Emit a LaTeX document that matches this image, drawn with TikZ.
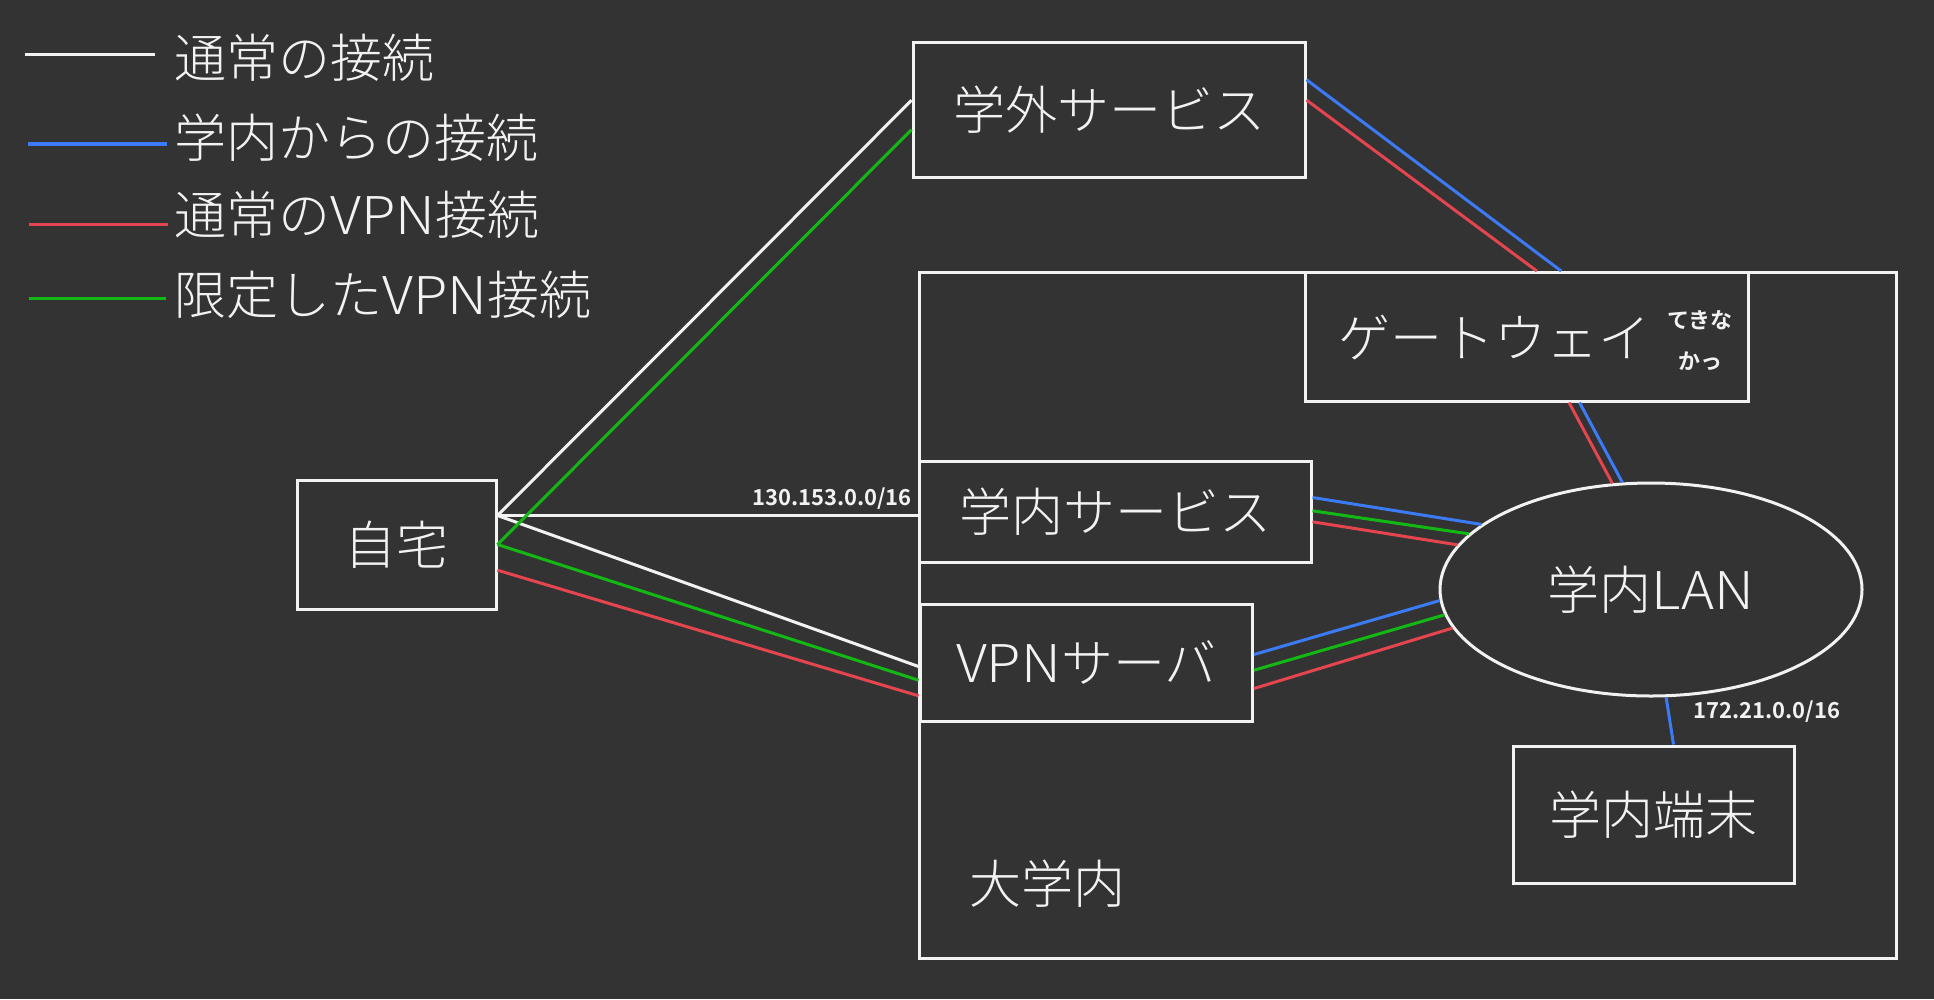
\documentclass[tikz,border=0pt]{standalone}
\usepackage{fontspec}
\IfFontExistsTF{Noto Sans CJK JP Light}{\setmainfont{Noto Sans CJK JP Light}[BoldFont=Noto Sans CJK JP Bold]}{\setmainfont{Noto Sans CJK JP}}
\usetikzlibrary{shapes.geometric}
\definecolor{bg}{HTML}{333333}
\definecolor{fg}{HTML}{F2F2F2}
\definecolor{lblue}{HTML}{3B7BF5}
\definecolor{lred}{HTML}{E5454F}
\definecolor{lgreen}{HTML}{14B814}
\newcommand{\latw}[1]{\scalebox{1.08}[1]{#1}}
\begin{document}
\begin{tikzpicture}[x=1pt,y=-1pt,
  box/.style={draw=fg, line width=3pt, rectangle, inner sep=0pt},
  bigtext/.style={text=fg, font=\fontsize{52}{60}\selectfont, inner sep=0pt},
  legtext/.style={text=fg, font=\fontsize{52}{60}\selectfont, inner sep=0pt, anchor=west},
  note/.style={text=fg, font=\fontsize{22}{26}\selectfont\bfseries, inner sep=0pt},
  wline/.style={draw=fg, line width=3pt},
  bline/.style={draw=lblue, line width=3pt},
  rline/.style={draw=lred, line width=3pt},
  gline/.style={draw=lgreen, line width=3pt}]
\fill[bg] (0,0) rectangle (1934,999);
\useasboundingbox (0,0) rectangle (1934,999);

% legend
\coordinate (l1a) at (24.5,54.3);  \coordinate (l1b) at (155,54.3);
\coordinate (l2a) at (27.7,144); \coordinate (l2b) at (167,144);
\coordinate (l3a) at (28.5,224.5); \coordinate (l3b) at (167.7,224.5);
\coordinate (l4a) at (28.5,298.5); \coordinate (l4b) at (166,298.5);
\draw[wline, line width=3.5pt] (l1a) -- (l1b);
\draw[bline, line width=3.5pt] (l2a) -- (l2b);
\draw[rline, line width=3.5pt] (l3a) -- (l3b);
\draw[gline, line width=3.5pt] (l4a) -- (l4b);
\node[legtext] (leg1) at (174,57.5) {通常の接続};
\node[legtext] (leg2) at (174,137.5) {学内からの接続};
\node[legtext] (leg3) at (174,215) {通常の\latw{VPN}接続};
\node[legtext] (leg4) at (174,295) {限定した\latw{VPN}接続};

% nodes
\node[box, minimum width=199pt, minimum height=129pt, bigtext] (home) at (396.5,544.5) {自宅};
\node[box, minimum width=392pt, minimum height=135.5pt, bigtext] (ext) at (1109,109.75) {学外サービス};
\node[box, minimum width=977pt, minimum height=686pt] (univ) at (1407.5,615) {};
\node[bigtext] (univlabel) at (1047.5,883.3) {大学内};
\node[box, minimum width=442.5pt, minimum height=128.5pt] (gw) at (1526.75,336.75) {};
\node[bigtext] (gwtext) at (1494,338) {ゲートウェイ};
\node[note] (gwnote1) at (1700,320) {てきな};
\node[note] (gwnote2) at (1700,361) {かっ};
\node[box, minimum width=392pt, minimum height=101pt, bigtext] (isvc) at (1115,512) {学内サービス};
\node[box, minimum width=332.5pt, minimum height=117.5pt, bigtext] (vpn) at (1086.25,662.75) {\latw{VPN}サーバ};
\node[ellipse, draw=fg, line width=3pt, minimum width=422pt, minimum height=213pt, inner sep=0pt, bigtext] (lan) at (1651,589.5) {学内\latw{LAN}};
\node[box, minimum width=281.5pt, minimum height=137pt, bigtext] (term) at (1653.75,814.5) {学内端末};
\node[note, font=\fontsize{22}{26}\selectfont\bfseries] (net1) at (832,499) {130.153.0.0/16};
\node[note, font=\fontsize{22}{26}\selectfont\bfseries] (net2) at (1767,712) {172.21.0.0/16};

% white
\draw[wline] ([yshift=-37pt]home.north east) -- ([yshift=-59.75pt]ext.north west);
\draw[wline] ([yshift=-37pt]home.north east) -- ([yshift=-55.5pt]isvc.north west);
\draw[wline] ([yshift=-37pt]home.north east) -- ([yshift=-64pt]vpn.north west);
% green
\draw[gline] ([yshift=-66pt]home.north east) -- ([yshift=-89.25pt]ext.north west);
\draw[gline] ([yshift=-66pt]home.north east) -- ([yshift=-77.7pt]vpn.north west);
\draw[gline] ([yshift=-50.8pt]isvc.north east) -- (lan.163.7);
\draw[gline] ([yshift=-67.7pt]vpn.north east) -- (lan.187.2);
% red
\draw[rline] ([yshift=-91.7pt]home.north east) -- ([yshift=-93.3pt]vpn.north west);
\draw[rline] ([yshift=-59.55pt]ext.north east) -- ([xshift=232.8pt]gw.north west);
\draw[rline] ([xshift=265pt]gw.south west) -- (lan.110.6);
\draw[rline] ([yshift=-61.8pt]isvc.north east) -- (lan.167.4);
\draw[rline] ([yshift=-86pt]vpn.north east) -- (lan.191.1);
% blue
\draw[bline] ([yshift=-39.25pt]ext.north east) -- ([xshift=257.2pt]gw.north west);
\draw[bline] ([xshift=275.5pt]gw.south west) -- (lan.105);
\draw[bline] ([yshift=-37.5pt]isvc.north east) -- (lan.159.8);
\draw[bline] ([yshift=-52pt]vpn.north east) -- (lan.183.5);
\draw[bline] (lan.278.7) -- ([xshift=162pt]term.north west);
\end{tikzpicture}
\end{document}
